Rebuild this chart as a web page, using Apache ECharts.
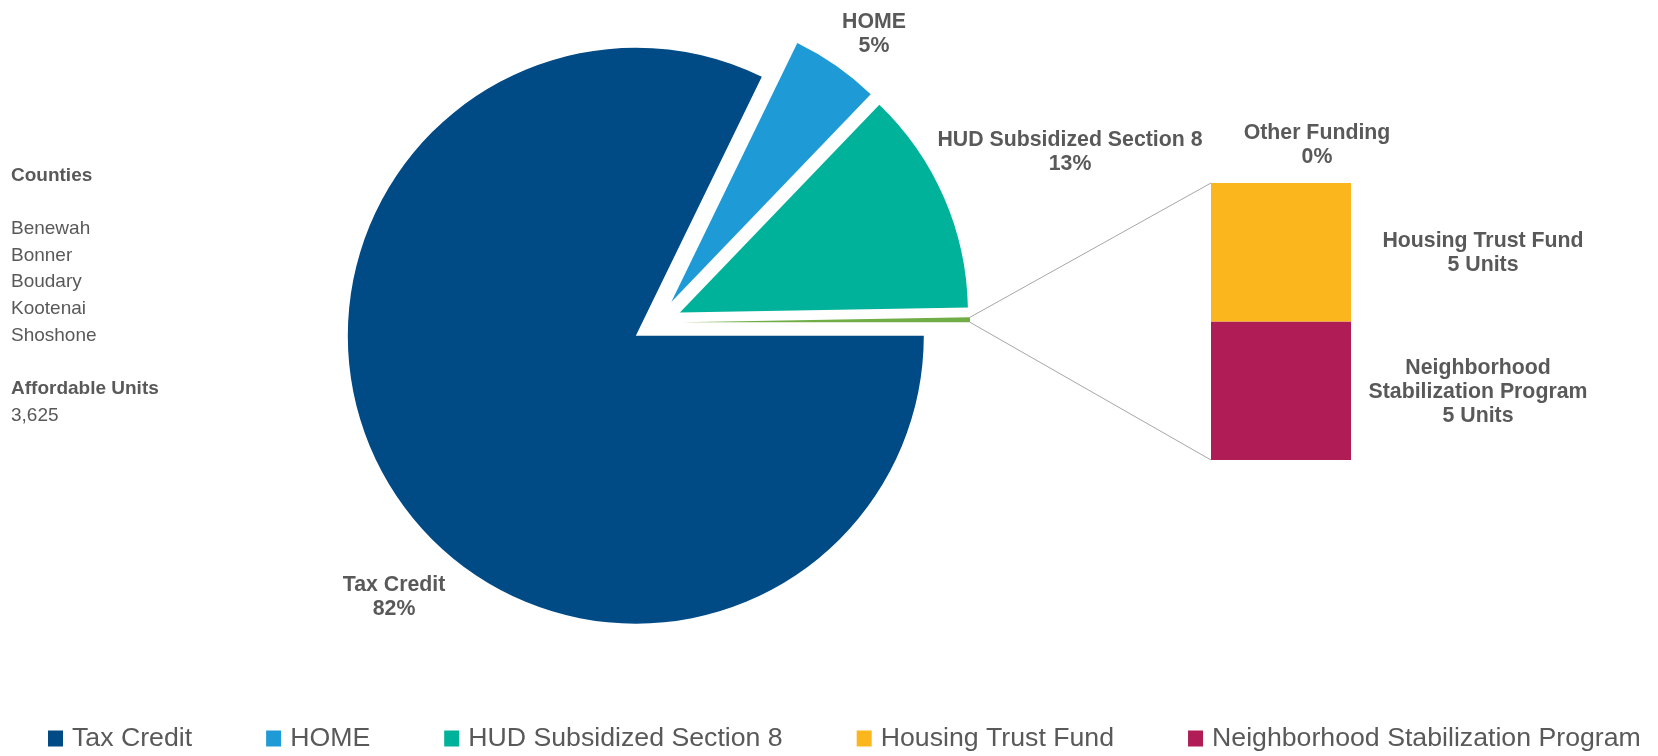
<!DOCTYPE html>
<html>
<head>
<meta charset="utf-8">
<title>Affordable units by funding source</title>
<script src="https://cdn.jsdelivr.net/npm/echarts@6/dist/echarts.min.js"></script>
<style>
html, body { margin: 0; padding: 0; background: #fff; }
#funding-chart { width: 1658px; height: 756px; }
</style>
</head>
<body>
<div id="funding-chart"></div>
<script>
var pie_names = ['Tax Credit', 'HOME', 'HUD Subsidized Section 8', 'Other Funding'];
var pie_units = [2980, 180, 455, 10];
var other_names = ['Neighborhood Stabilization Program', 'Housing Trust Fund'];
var other_label_names = ['Neighborhood\nStabilization Program', 'Housing Trust Fund'];
var other_units = [5, 5];
var counties = ['Benewah', 'Bonner', 'Boudary', 'Kootenai', 'Shoshone'];
var affordable_units = '3,625';
var legend_names = ['Tax Credit', 'HOME', 'HUD Subsidized Section 8', 'Housing Trust Fund', 'Neighborhood Stabilization Program'];

var pie_colors = ['#004a86', '#1e9ad6', '#00b299', '#70ad47'];
var other_colors = ['#b01c56', '#fbb51d'];
var pie_label_pos = [[394, 597], [874, 34], [1070, 152], [1317, 145]];
var other_label_offset = [[197, 1], [202, 1]];

var font_family = '"Liberation Sans", Arial, sans-serif';
var text_color = '#595959';
var explode = 25;

var funding_chart = echarts.init(document.getElementById('funding-chart'));

var side_text = '{h|Counties}\n\n'
    + counties.map(function (c) { return '{n|' + c + '}'; }).join('\n')
    + '\n\n{h|Affordable Units}\n{n|' + affordable_units + '}';

var label_style = {
    color: text_color,
    fontFamily: font_family,
    fontWeight: 'bold',
    fontSize: 21.3,
    lineHeight: 24,
    align: 'center'
};

var pie_data = pie_names.map(function (name, i) {
    return {
        name: name,
        value: pie_units[i],
        selected: true,
        itemStyle: { color: pie_colors[i] }
    };
});

var bar_series = other_names.map(function (name, i) {
    return {
        name: name,
        type: 'bar',
        stack: 'other',
        xAxisIndex: 0,
        yAxisIndex: 0,
        barWidth: '100%',
        data: [other_units[i]],
        itemStyle: { color: other_colors[i] },
        label: Object.assign({
            show: true,
            position: 'inside',
            offset: other_label_offset[i],
            textBorderWidth: 0,
            formatter: other_label_names[i] + '\n{c} Units'
        }, label_style)
    };
});

var echarts_options = {
    animation: false,
    title: {
        text: side_text,
        left: 11,
        top: 162,
        padding: 0,
        textStyle: {
            fontFamily: font_family,
            fontSize: 19,
            lineHeight: 26.7,
            color: text_color,
            rich: {
                h: { fontFamily: font_family, fontSize: 19, lineHeight: 26.7, fontWeight: 'bold', color: text_color },
                n: { fontFamily: font_family, fontSize: 19, lineHeight: 26.7, fontWeight: 'normal', color: text_color }
            }
        }
    },
    legend: {
        data: legend_names,
        left: 48,
        top: 725,
        padding: 0,
        itemWidth: 15,
        itemHeight: 16,
        itemGap: 74,
        icon: 'rect',
        selectedMode: false,
        textStyle: {
            fontFamily: font_family,
            fontSize: 26.7,
            color: text_color,
            padding: [0, 0, 0, 4]
        }
    },
    grid: {
        left: 1211,
        top: 183,
        width: 140,
        height: 277
    },
    xAxis: { type: 'category', data: ['Other Funding'], show: false },
    yAxis: { type: 'value', min: 0, max: 10, show: false },
    series: [
        {
            name: 'Funding',
            type: 'pie',
            center: [657, 322.5],
            radius: 288,
            startAngle: 0,
            clockwise: true,
            selectedMode: 'multiple',
            selectedOffset: explode,
            percentPrecision: 0,
            avoidLabelOverlap: false,
            data: pie_data,
            label: { show: false },
            labelLine: { show: false },
            emphasis: { scale: false }
        }
    ].concat(bar_series)
};

funding_chart.setOption(echarts_options);

/* Pie labels and connector lines, placed from the rendered layout. */
var model = funding_chart.getModel();
var pie_series = model.getSeriesByIndex(0);
var slice = pie_series.getData().getItemLayout(3);
var mid = (slice.startAngle + slice.endAngle) / 2;
var ox = slice.cx + Math.cos(mid) * explode;
var oy = slice.cy + Math.sin(mid) * explode;
var end_a = [ox + slice.r * Math.cos(slice.startAngle), oy + slice.r * Math.sin(slice.startAngle)];
var end_b = [ox + slice.r * Math.cos(slice.endAngle), oy + slice.r * Math.sin(slice.endAngle)];
var upper = end_a[1] < end_b[1] ? end_a : end_b;
var lower = end_a[1] < end_b[1] ? end_b : end_a;

var nsp = model.getSeriesByIndex(1).getData().getItemLayout(0);
var htf = model.getSeriesByIndex(2).getData().getItemLayout(0);
var bar_left = Math.min(htf.x, htf.x + htf.width);
var bar_top = Math.min(htf.y, htf.y + htf.height);
var bar_bottom = Math.max(nsp.y, nsp.y + nsp.height);

var graphics = [
    {
        type: 'line',
        shape: { x1: upper[0], y1: upper[1], x2: bar_left, y2: bar_top },
        style: { stroke: '#a6a6a6', lineWidth: 1 }
    },
    {
        type: 'line',
        shape: { x1: lower[0], y1: lower[1], x2: bar_left, y2: bar_bottom },
        style: { stroke: '#a6a6a6', lineWidth: 1 }
    }
];

pie_names.forEach(function (name, i) {
    var params = pie_series.getDataParams(i);
    graphics.push({
        type: 'text',
        x: pie_label_pos[i][0],
        y: pie_label_pos[i][1],
        style: {
            text: name + '\n' + params.percent + '%',
            fill: text_color,
            fontFamily: font_family,
            fontWeight: 'bold',
            fontSize: 21.3,
            lineHeight: 24,
            align: 'center',
            verticalAlign: 'middle'
        }
    });
});

funding_chart.setOption({ graphic: graphics });
</script>
</body>
</html>
